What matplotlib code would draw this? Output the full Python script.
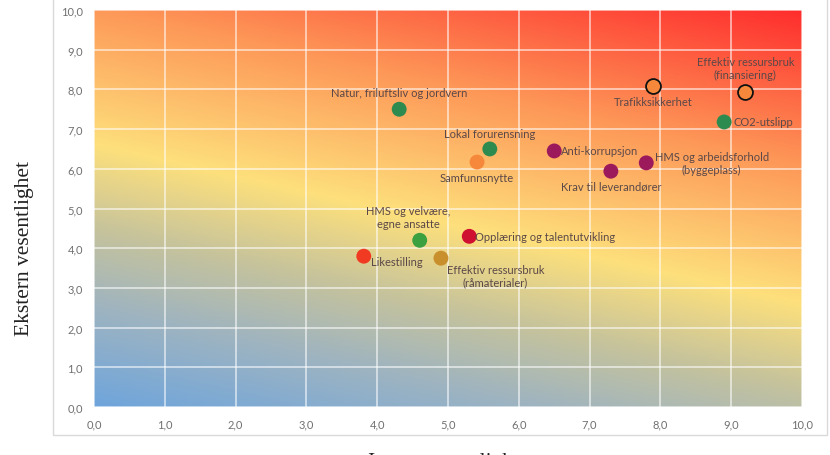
import numpy as np
import matplotlib
matplotlib.use('Agg')
import matplotlib.pyplot as plt
from matplotlib.colors import LinearSegmentedColormap
from matplotlib.patches import Rectangle

# data
labels = ['Natur, friluftsliv og jordvern', 'Lokal forurensning', 'Samfunnsnytte',
          'Anti-korrupsjon', 'Krav til leverandører', 'HMS og arbeidsforhold\n(byggeplass)',
          'Trafikksikkerhet', 'Effektiv ressursbruk\n(finansiering)', 'CO2-utslipp',
          'HMS og velvære,\negne ansatte', 'Opplæring og talentutvikling', 'Likestilling',
          'Effektiv ressursbruk\n(råmaterialer)']
x_vals = [4.31, 5.59, 5.41, 6.50, 7.30, 7.80, 7.90, 9.20, 8.90, 4.60, 5.30, 3.81, 4.90]
y_vals = [7.50, 6.50, 6.17, 6.45, 5.94, 6.15, 8.09, 7.93, 7.18, 4.20, 4.30, 3.80, 3.75]
colors = ['#2e8b4f', '#2e8b4f', '#f5883a', '#9c1a5c', '#9c1a5c', '#9c1a5c',
          '#f5883a', '#f5883a', '#2e8b4f', '#3ba040', '#cf1030', '#f03a22', '#c98f2c']
edges = ['none', 'none', 'none', 'none', 'none', 'none',
         '#111111', '#111111', 'none', 'none', 'none', 'none', 'none']
# label placement: (dx, dy) in points, ha, va
label_pos = [(0, 8, 'center', 'bottom'), (0, 7, 'center', 'bottom'), (0, -7, 'center', 'top'),
             (5, 0, 'left', 'center'), (0, -7, 'center', 'top'), (6, 0, 'left', 'center'),
             (0, -7, 'center', 'top'), (0, 9, 'center', 'bottom'), (7, 0, 'left', 'center'),
             (-8, 8, 'center', 'bottom'), (4, 0, 'left', 'center'), (5, -4, 'left', 'center'),
             (4, -4, 'left', 'top')]
ticks = np.arange(0, 11, 1)

plt.rcParams['font.family'] = ['Lato', 'DejaVu Sans']

fig = plt.figure(figsize=(8.3, 4.56), dpi=100)
fig.patch.set_facecolor('white')
fig.patches.append(Rectangle((0.064, 0.044), 0.932, 1.0, transform=fig.transFigure,
                             facecolor='none', edgecolor='#d9d9d9', linewidth=1.0, zorder=-1))

ax = fig.add_axes([0.1133, 0.105, 0.853, 0.871])

cmap = LinearSegmentedColormap.from_list('heat', [
    (0.0, '#6fa5dc'), (0.18, '#9fb4c0'), (0.32, '#c6c39c'), (0.47, '#fde07c'),
    (0.72, '#fd9858'), (1.0, '#ff2d2d')])
gx, gy = np.meshgrid(np.linspace(0, 10, 300), np.linspace(0, 10, 300))
grad = (0.4 * gx + gy) / 14.0
ax.imshow(grad, extent=[0, 10, 0, 10], origin='lower', cmap=cmap, vmin=0, vmax=1,
          aspect='auto', zorder=0)

ax.set_xlim(0, 10)
ax.set_ylim(0, 10)
ax.set_xticks(ticks)
ax.set_yticks(ticks)
ax.set_xticklabels([f'{t:.1f}'.replace('.', ',') for t in ticks])
ax.set_yticklabels([f'{t:.1f}'.replace('.', ',') for t in ticks])
ax.grid(True, color='white', alpha=0.6, linewidth=1.3)
ax.set_axisbelow(False)
for s in ax.spines.values():
    s.set_visible(False)
ax.tick_params(length=0, labelsize=8, colors='#707070', pad=8)

for i in range(len(labels)):
    ax.scatter(x_vals[i], y_vals[i], s=115, color=colors[i], edgecolors=edges[i],
               linewidths=1.3, zorder=3)
    dx, dy, ha, va = label_pos[i]
    ax.annotate(labels[i], (x_vals[i], y_vals[i]), xytext=(dx, dy),
                textcoords='offset points', ha=ha, va=va, fontsize=8,
                color='#5b4848', multialignment='center', zorder=4)

fig.text(0.030, 0.455, 'Ekstern vesentlighet', rotation=90, ha='center', va='center',
         fontsize=15.5, family='Liberation Serif', color='#222222')
fig.text(0.54, 0.006, 'Intern vesentlighet', ha='center', va='top',
         fontsize=15.5, family='Liberation Serif', color='#222222')

fig.savefig('out.png', dpi=100)
